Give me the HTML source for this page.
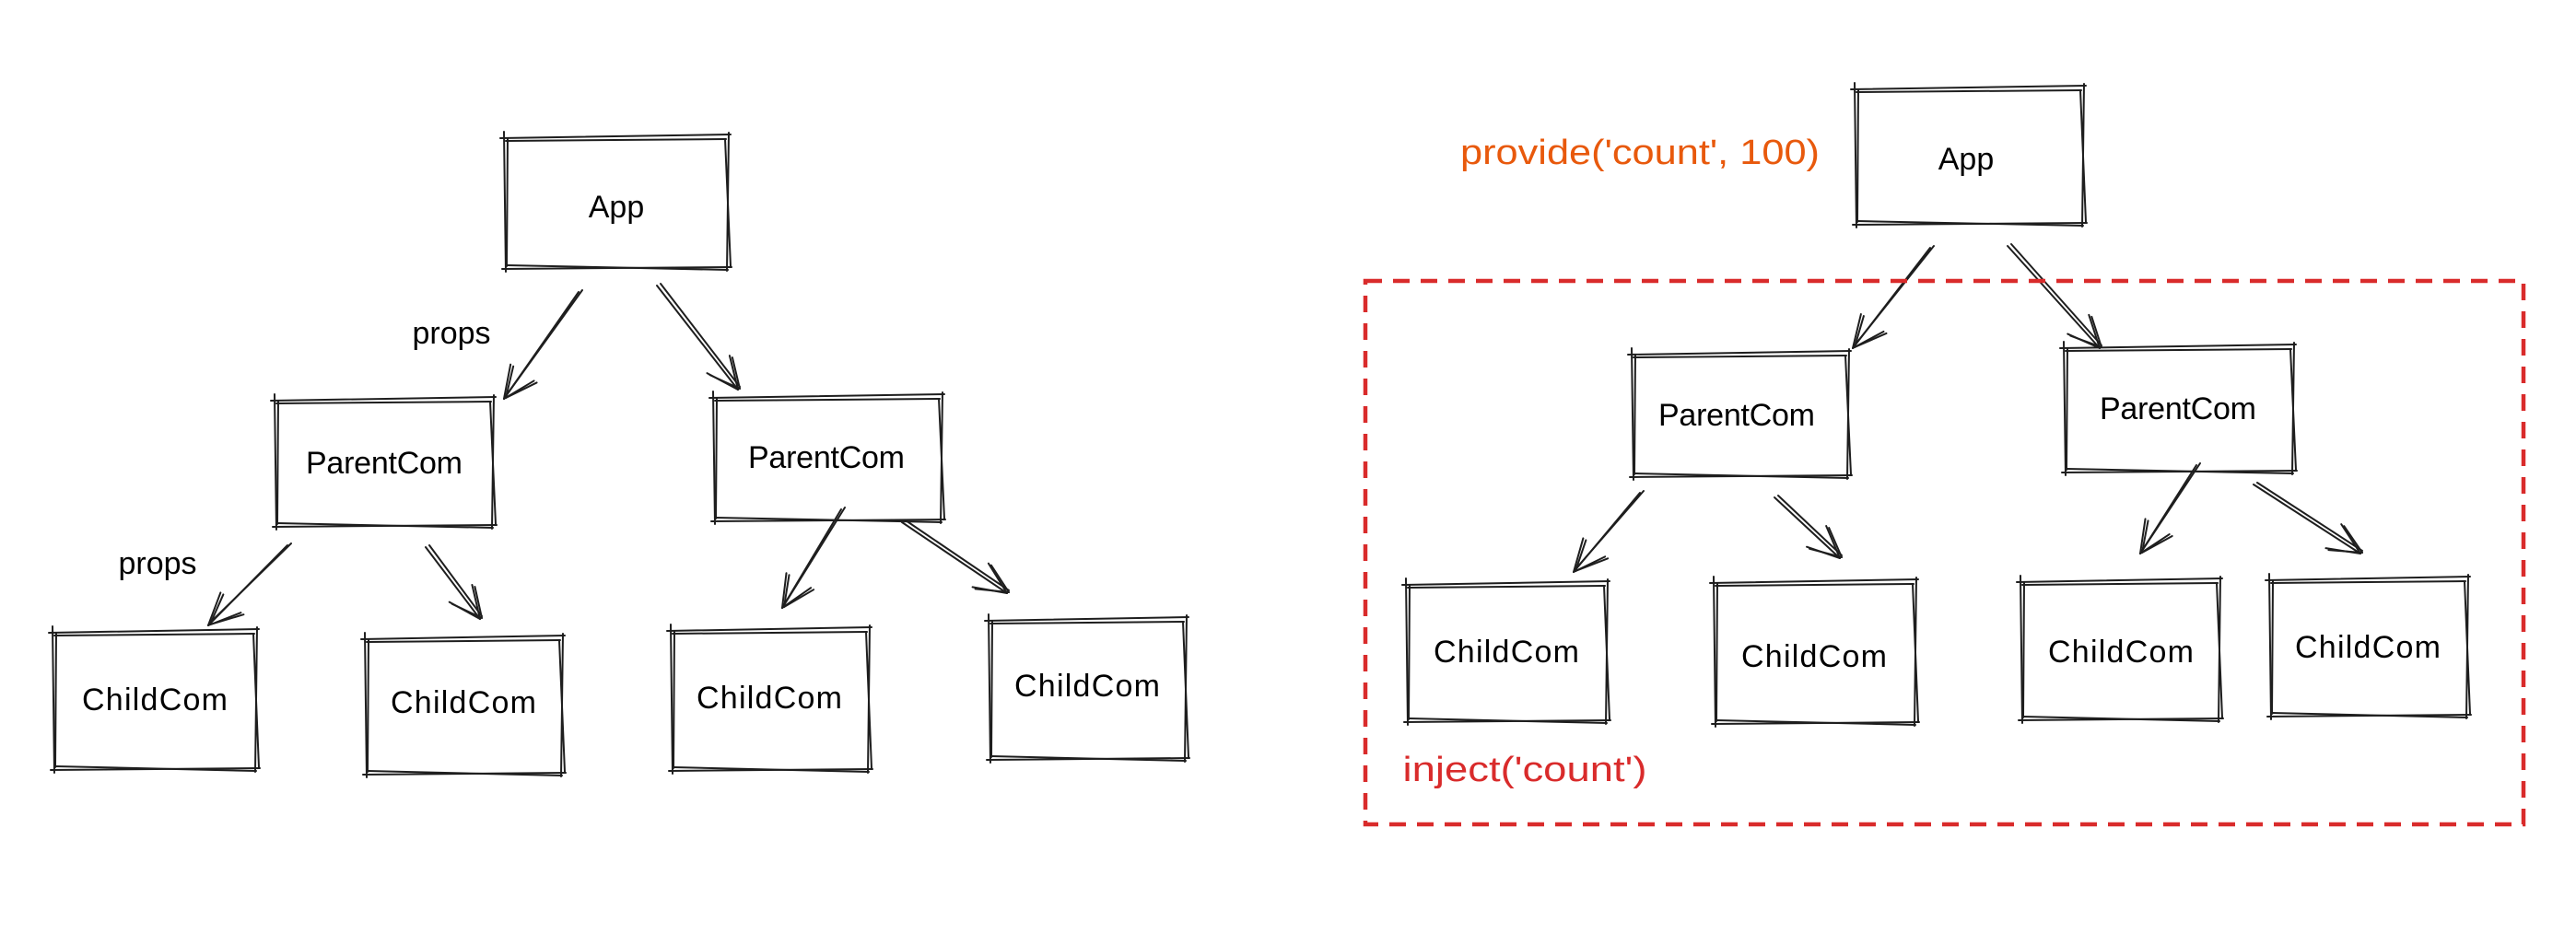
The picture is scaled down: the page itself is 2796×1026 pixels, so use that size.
<!DOCTYPE html>
<html><head><meta charset="utf-8"><style>
html,body{margin:0;padding:0;background:#fff;}
svg{display:block}
text{font-family:"Liberation Sans",sans-serif;}
</style></head><body>
<svg id="s" width="2796" height="1026" viewBox="0 0 2796 1026" xmlns="http://www.w3.org/2000/svg">
<rect x="0" y="0" width="2796" height="1026" fill="#fff"/>
<g id="g" fill="none" stroke="#1e1e1e" stroke-width="2" stroke-linecap="round"></g>
<rect x="1482" y="305" width="1257" height="590" fill="none" stroke="#d92b2b" stroke-width="4.5" stroke-dasharray="18 12"/>
<g font-size="34" fill="#000" text-anchor="middle" dominant-baseline="central">
<text x="669" y="225">App</text>
<text x="417" y="503" textLength="170">ParentCom</text>
<text x="897" y="497" textLength="170">ParentCom</text>
<text x="168" y="760" textLength="158">ChildCom</text>
<text x="503" y="763" textLength="158">ChildCom</text>
<text x="835" y="758" textLength="158">ChildCom</text>
<text x="1180" y="745" textLength="158">ChildCom</text>
<text x="490" y="362">props</text>
<text x="171" y="612">props</text>
<text x="2134" y="173">App</text>
<text x="1885" y="451" textLength="170">ParentCom</text>
<text x="2364" y="444" textLength="170">ParentCom</text>
<text x="1635" y="708" textLength="158">ChildCom</text>
<text x="1969" y="713" textLength="158">ChildCom</text>
<text x="2302" y="708" textLength="158">ChildCom</text>
<text x="2570" y="703" textLength="158">ChildCom</text>
<text x="1780" y="166" font-size="38" fill="#e8590c" textLength="390" lengthAdjust="spacingAndGlyphs">provide('count', 100)</text>
<text x="1655" y="836" font-size="38" fill="#d92b2b" textLength="265" lengthAdjust="spacingAndGlyphs">inject('count')</text>
</g>
</svg>
<script>
var g=document.getElementById('g');
function ln(x1,y1,x2,y2){var l=document.createElementNS('http://www.w3.org/2000/svg','line');l.setAttribute('x1',x1);l.setAttribute('y1',y1);l.setAttribute('x2',x2);l.setAttribute('y2',y2);g.appendChild(l);}
function box(x1,y1,x2,y2){
 ln(x1-4,y1+2,x2+3,y1-2);ln(x1+2,y1+5,x2-2,y1+3);
 ln(x1-2,y2+1,x2+4,y2-1);ln(x1+3,y2-3,x2,y2+2);
 ln(x1,y1-5,x1+2,y2+4);ln(x1+4,y1+2,x1+3,y2-2);
 ln(x2+1,y1-4,x2-1,y2+3);ln(x2-3,y1+3,x2+3,y2-2);
}
function arr(x1,y1,x2,y2){
 ln(x1,y1,x2,y2);ln(x1+4,y1-2,x2+2,y2-3);
 var a=Math.atan2(y2-y1,x2-x1),L=38,d=0.42;
 [a+Math.PI-d,a+Math.PI+d].forEach(function(b){
  ln(x2,y2,x2+L*Math.cos(b),y2+L*Math.sin(b));
  ln(x2+2,y2-1,x2+L*Math.cos(b)+3,y2+L*Math.sin(b)+2);
 });
}
[[547,148,790,291],[298,433,535,571],[774,430,1022,565],[57,685,278,835],[396,692,610,840],[728,683,943,836],[1073,672,1287,824],
 [2013,95,2261,243],[1771,383,2006,517],[2240,376,2489,512],[1526,633,1744,783],[1860,631,2079,785],[2193,630,2409,781],[2463,628,2678,777]].forEach(function(b){box.apply(null,b);});
[[628,317,547,433],[713,310,801,423],[312,592,226,679],[462,594,521,672],[913,553,849,660],[979,567,1093,644],
 [2095,269,2011,378],[2179,267,2279,378],[1780,535,1708,621],[1926,540,1997,606],[2384,505,2323,601],[2446,526,2562,601]].forEach(function(a){arr.apply(null,a);});
</script>
</body></html>
